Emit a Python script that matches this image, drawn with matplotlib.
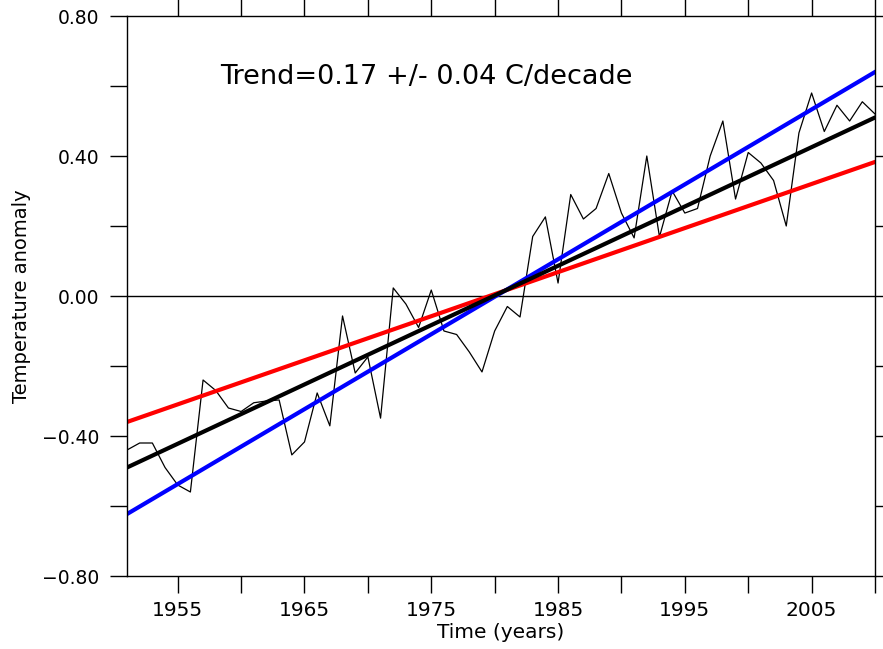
"""Anomalía de temperatura anual con rectas de tendencia."""

import matplotlib.pyplot as plt
from matplotlib.ticker import FixedLocator, FuncFormatter

years = list(range(1951, 2011))
anomaly = [
    -0.44, -0.42, -0.42, -0.49, -0.54, -0.56, -0.24, -0.27, -0.32, -0.33,
    -0.305, -0.30, -0.297, -0.454, -0.417, -0.277, -0.371, -0.057, -0.22, -0.174,
    -0.349, 0.023, -0.023, -0.09, 0.017, -0.10, -0.11, -0.16, -0.217, -0.10,
    -0.03, -0.06, 0.17, 0.226, 0.037, 0.29, 0.22, 0.25, 0.35, 0.237,
    0.166, 0.40, 0.169, 0.30, 0.237, 0.25, 0.40, 0.50, 0.277, 0.41,
    0.38, 0.33, 0.20, 0.466, 0.58, 0.47, 0.545, 0.50, 0.555, 0.52,
]

trend_years = [1951, 2010]
trend_mean = [-0.49, 0.51]
trend_upper = [-0.623, 0.64]
trend_lower = [-0.36, 0.383]

trend_text = "Trend=0.17 +/- 0.04 C/decade"

fig = plt.figure(figsize=(8.83, 6.49), dpi=100)
ax = fig.add_axes([127 / 883, 73 / 649, 748 / 883, 560 / 649])

ax.axhline(0, color="black", linewidth=1.0)
ax.plot(years, anomaly, color="black", linewidth=0.9)
ax.plot(trend_years, trend_lower, color="#ff0000", linewidth=3)
ax.plot(trend_years, trend_upper, color="#0000ff", linewidth=3)
ax.plot(trend_years, trend_mean, color="black", linewidth=3)

ax.set_xlim(1951, 2010)
ax.set_ylim(-0.8, 0.8)

ax.xaxis.set_major_locator(FixedLocator(range(1955, 2010, 10)))
ax.xaxis.set_minor_locator(FixedLocator(range(1960, 2011, 10)))
ax.yaxis.set_major_locator(FixedLocator([-0.8, -0.4, 0.0, 0.4, 0.8]))
ax.yaxis.set_minor_locator(FixedLocator([-0.6, -0.2, 0.2, 0.6]))
ax.yaxis.set_major_formatter(
    FuncFormatter(lambda v, _: f"{v:.2f}".replace("-", "\u2212") if abs(v) > 1e-9 else "0.00")
)

ax.tick_params(which="both", direction="out", length=12, width=1.0,
               top=True, right=True)
ax.tick_params(axis="x", labelsize=14.5, pad=6)
ax.tick_params(axis="y", labelsize=13.5, pad=8)
for s in ax.spines.values():
    s.set_linewidth(1.0)

ax.set_xlabel("Time (years)", fontsize=14.5, labelpad=2)
ax.set_ylabel("Temperature anomaly", fontsize=14, labelpad=8)
ax.text(0.125, 0.891, trend_text, transform=ax.transAxes, fontsize=19.5,
        ha="left", va="center")

fig.savefig("out.png", dpi=100)
